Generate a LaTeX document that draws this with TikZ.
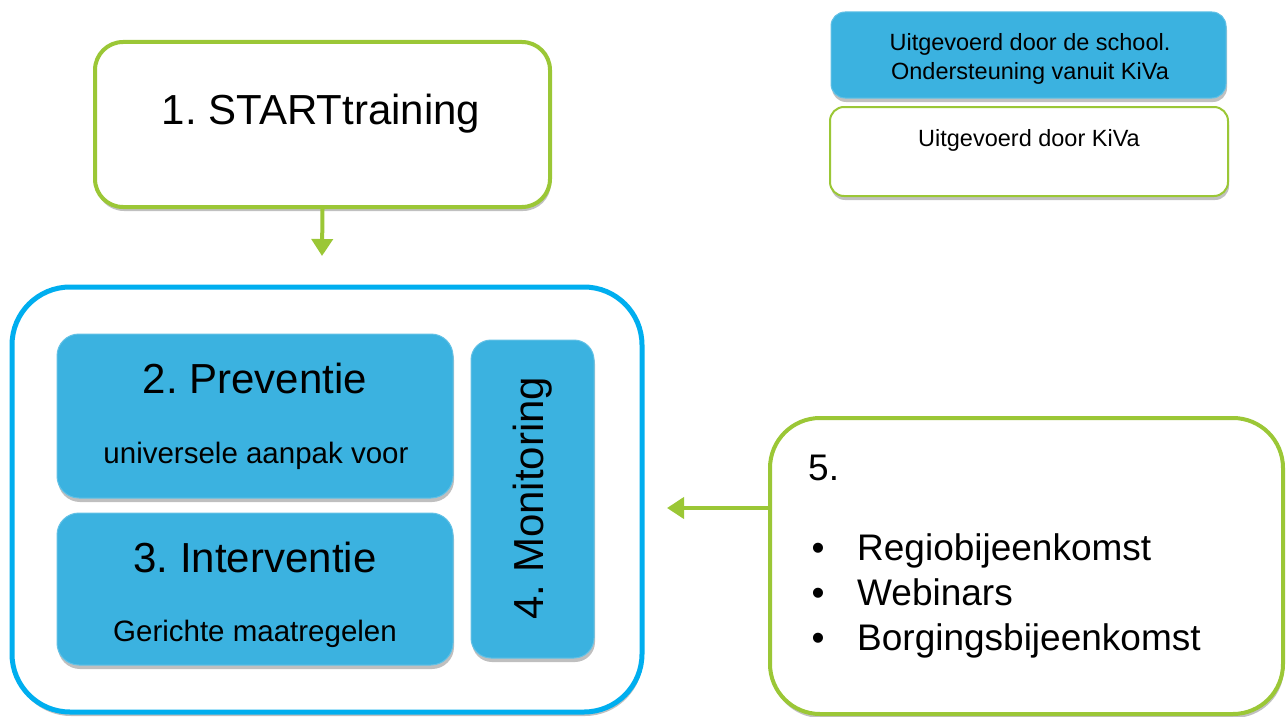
\documentclass[tikz,border=0pt]{standalone}
\usepackage{fontspec}
\setmainfont{Liberation Sans}
\usetikzlibrary{arrows.meta,shadows}
\definecolor{kgreen}{RGB}{155,199,54}
\definecolor{kblue}{RGB}{59,178,224}
\definecolor{kouter}{RGB}{0,174,239}
\tikzset{
  boxshade/.style={drop shadow={shadow xshift=1pt,shadow yshift=-4pt,opacity=0.45,fill=black!55}},
  greenbox/.style={draw=kgreen, line width=4pt, fill=white, inner sep=0pt, boxshade},
  bluebox/.style={draw=kblue!80!white, line width=1pt, fill=kblue, rounded corners=22pt, inner sep=0pt, boxshade},
  outerbox/.style={draw=kouter, line width=5pt, fill=white, rounded corners=58pt, inner sep=0pt, boxshade},
  arrowline/.style={draw=kgreen, line width=4pt, -{Triangle[length=17pt,width=21pt]}},
  txt/.style={inner sep=0pt, anchor=base, text=black},
}
\newcommand{\fs}[1]{\fontsize{#1}{#1}\selectfont}
\frenchspacing
\begin{document}
\begin{tikzpicture}[x=1pt,y=-1pt]
\useasboundingbox (0,0) rectangle (1288,717);
% legend
\node[bluebox, rounded corners=14pt, minimum width=395pt, minimum height=86pt] (leg1) at (1028.5,55) {};
\node[greenbox, line width=2pt, rounded corners=14pt, minimum width=398pt, minimum height=89pt] (leg2) at (1029,151.5) {};
\node[txt] (leg1a) at (1030,51) {\fs{23.5}Uitgevoerd door de school.};
\node[txt] (leg1b) at (1030,80) {\fs{23.5}Ondersteuning vanuit KiVa};
\node[txt] (leg2a) at (1029,146) {\fs{23.5}Uitgevoerd door KiVa};
% start
\node[greenbox, rounded corners=28pt, minimum width=455pt, minimum height=165pt] (start) at (322.5,124.5) {};
\node[txt] (starttxt) at (321,124) {\fs{42}1. STARTtraining};
\coordinate (startend) at (322,256);
\draw[arrowline] (start.south) -- (startend);
% outer blue
\node[outerbox, minimum width=630pt, minimum height=425pt] (outer) at (327,499.5) {};
\node[bluebox, minimum width=396pt, minimum height=164pt] (prev) at (255,416) {};
\node[txt] (prevt) at (255,393) {\fs{42}2. Preventie};
\node[txt] (prevs) at (256,463) {\fs{29.5}universele aanpak voor};
\node[bluebox, minimum width=396pt, minimum height=152pt] (int) at (255,589) {};
\node[txt] (intt) at (255,572) {\fs{42}3. Interventie};
\node[txt] (ints) at (255,641) {\fs{29.5}Gerichte maatregelen};
\node[bluebox, rounded corners=20pt, minimum width=123pt, minimum height=318pt] (mon) at (532.5,499) {};
\node[txt, rotate=90] (mont) at (543,498) {\fs{42}4. Monitoring};
% box 5
\node[greenbox, rounded corners=50pt, minimum width=513pt, minimum height=296pt] (five) at (1026.5,566) {};
\node[txt, anchor=base west] (fivet) at (808,480) {\fs{37}5.};
\node[txt] (b1) at (818,560) {\fs{37}\textbullet};
\node[txt] (b2) at (818,605) {\fs{37}\textbullet};
\node[txt] (b3) at (818,650) {\fs{37}\textbullet};
\node[txt, anchor=base west] (l1) at (857,560) {\fs{37}Regiobijeenkomst};
\node[txt, anchor=base west] (l2) at (857,605) {\fs{37}Webinars};
\node[txt, anchor=base west] (l3) at (857,650) {\fs{37}Borgingsbijeenkomst};
\coordinate (fiveend) at (667,508);
\draw[arrowline] (five.west |- fiveend) -- (fiveend);
\end{tikzpicture}
\end{document}
